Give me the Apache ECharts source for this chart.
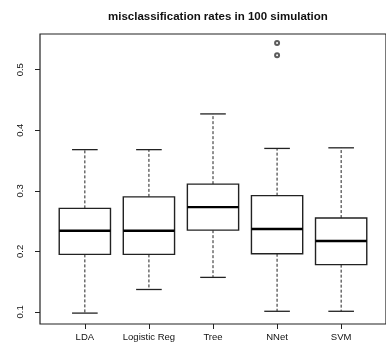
<!DOCTYPE html>
<html><head><meta charset="utf-8">
<script src="https://cdn.jsdelivr.net/npm/echarts@6/dist/echarts.min.js"></script>
<style>html,body{margin:0;padding:0;background:#fff}#c{width:386px;height:345px}</style>
</head><body><div id="c"></div>
<script>
var categories = ['LDA', 'Logistic Reg', 'Tree', 'NNet', 'SVM'];
var lowWhisker = [0.098, 0.137, 0.157, 0.101, 0.101];
var q1 = [0.195, 0.195, 0.235, 0.196, 0.178];
var median = [0.234, 0.234, 0.273, 0.237, 0.217];
var q3 = [0.271, 0.290, 0.311, 0.292, 0.255];
var highWhisker = [0.368, 0.368, 0.427, 0.370, 0.371];
var outlierCat = [4, 4];
var outlierVal = [0.544, 0.524];
var yTicks = [0.1, 0.2, 0.3, 0.4, 0.5];

var boxData = categories.map(function (c, i) {
  return [i + 1, lowWhisker[i], q1[i], median[i], q3[i], highWhisker[i]];
});
var outData = outlierCat.map(function (c, i) { return [c, outlierVal[i]]; });

var chart = echarts.init(document.getElementById('c'));
chart.setOption({
  animation: false,
  title: {
    text: 'misclassification rates in 100 simulation',
    left: 103, top: 6,
    textStyle: { fontFamily: 'Liberation Sans', fontSize: 11.5, fontWeight: 'bold', color: '#111' }
  },
  grid: { left: 40, top: 34, width: 351, height: 290, show: true, borderColor: '#222', borderWidth: 1.2, backgroundColor: 'transparent' },
  xAxis: {
    type: 'value', min: 0.3, max: 5.7,
    splitLine: { show: false },
    axisLine: { show: false },
    axisTick: { show: true, length: 5, customValues: [1, 2, 3, 4, 5], lineStyle: { color: '#222' } },
    axisLabel: {
      customValues: [1, 2, 3, 4, 5], margin: 8,
      fontFamily: 'Liberation Sans', fontSize: 9.5, color: '#111',
      formatter: function (v) { return categories[Math.round(v) - 1] || ''; }
    }
  },
  yAxis: {
    type: 'value', min: 0.08, max: 0.559,
    splitLine: { show: false },
    axisLine: { show: false },
    axisTick: { show: true, length: 5, customValues: yTicks, lineStyle: { color: '#222' } },
    axisLabel: {
      customValues: yTicks, rotate: 90, margin: 15,
      fontFamily: 'Liberation Sans', fontSize: 9.5, color: '#111',
      formatter: function (v) { return String(Math.round(v * 10) / 10); }
    }
  },
  series: [{
    type: 'custom',
    data: boxData,
    renderItem: function (params, api) {
      var x = api.value(0);
      var w = api.size([0.8, 0])[0];
      var pLo = api.coord([x, api.value(1)]);
      var pQ1 = api.coord([x, api.value(2)]);
      var pMed = api.coord([x, api.value(3)]);
      var pQ3 = api.coord([x, api.value(4)]);
      var pHi = api.coord([x, api.value(5)]);
      var cx = pMed[0];
      var dash = { stroke: '#222', lineWidth: 1, lineDash: [3, 2] };
      var solid = { stroke: '#222', lineWidth: 1.3 };
      return {
        type: 'group',
        children: [
          { type: 'line', shape: { x1: cx, y1: pQ3[1], x2: cx, y2: pHi[1] }, style: dash },
          { type: 'line', shape: { x1: cx, y1: pQ1[1], x2: cx, y2: pLo[1] }, style: dash },
          { type: 'line', shape: { x1: cx - w / 4, y1: pHi[1], x2: cx + w / 4, y2: pHi[1] }, style: solid },
          { type: 'line', shape: { x1: cx - w / 4, y1: pLo[1], x2: cx + w / 4, y2: pLo[1] }, style: solid },
          { type: 'rect', shape: { x: cx - w / 2, y: pQ3[1], width: w, height: pQ1[1] - pQ3[1] }, style: { fill: '#fff', stroke: '#222', lineWidth: 1.4 } },
          { type: 'line', shape: { x1: cx - w / 2, y1: pMed[1], x2: cx + w / 2, y2: pMed[1] }, style: { stroke: '#000', lineWidth: 2.4 } }
        ]
      };
    }
  }, {
    type: 'scatter',
    data: outData,
    symbol: 'emptyCircle', symbolSize: 4,
    itemStyle: { color: '#333', borderColor: '#333', borderWidth: 0.9 }
  }]
});
</script></body></html>
